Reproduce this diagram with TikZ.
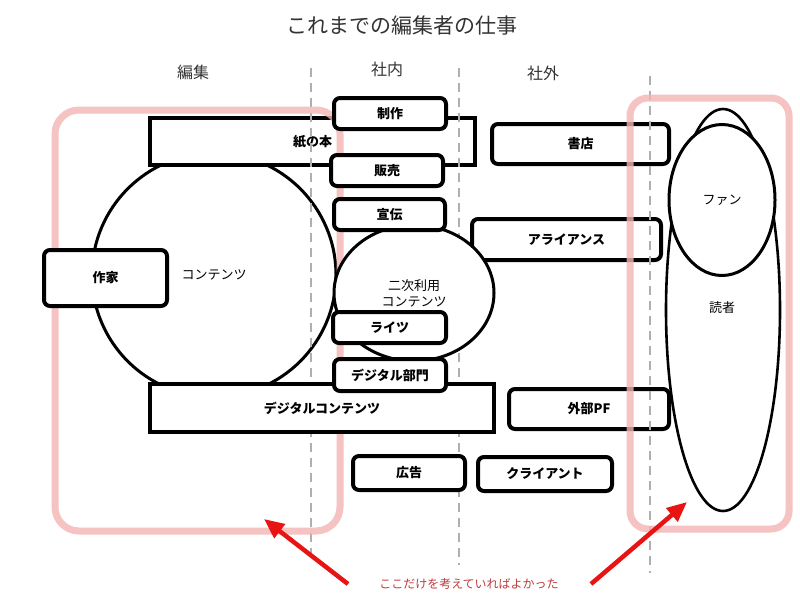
\documentclass[tikz,border=0pt]{standalone}
\usepackage{fontspec}
\setmainfont{Noto Sans CJK JP}
\usetikzlibrary{shapes.geometric,arrows.meta}
\definecolor{pinkline}{RGB}{244,180,180}
\definecolor{dashgray}{RGB}{175,175,175}
\definecolor{arrowred}{RGB}{232,20,20}
\definecolor{notered}{RGB}{190,60,60}
\tikzset{
  box/.style={draw, line width=4pt, rounded corners=6pt, fill=white, inner sep=0pt,
              font=\fontsize{13}{15}\selectfont\bfseries},
  sharpbox/.style={box, rounded corners=0pt},
  blob/.style={draw, line width=3pt, fill=white, inner sep=0pt,
               font=\fontsize{13}{16}\selectfont},
  divider/.style={dashgray, line width=2pt, dash pattern=on 9pt off 6pt},
  focus/.style={pinkline, line width=7pt, opacity=0.8},
  pointer/.style={arrowred, line width=4.5pt, -{Triangle[length=20pt,width=17pt]}},
  heading/.style={font=\fontsize{16}{18}\selectfont, text=black!80},
}
\begin{document}
\begin{tikzpicture}[x=1pt,y=-1pt]
\useasboundingbox (0,0) rectangle (800,600);
\fill[white] (0,0) rectangle (800,600);

% title and column headings
\node[font=\fontsize{21}{24}\selectfont, text=black!80] (title) at (402,26) {これまでの編集者の仕事};
\node[heading] (hEdit) at (193,72) {編集};
\node[heading] (hIn) at (387,69) {社内};
\node[heading] (hOut) at (543,73) {社外};

% bottom layer shapes
\node[blob, circle, minimum size=244pt] (cont) at (214,275) {コンテンツ};
\node[sharpbox, minimum width=325pt, minimum height=47pt] (paper) at (312.5,141.5) {紙の本};
\node[box, minimum width=177pt, minimum height=40pt] (shop) at (580.5,144) {書店};
\node[box, minimum width=189pt, minimum height=41pt] (alliance) at (566.5,239.5) {アライアンス};
\node[box, minimum width=160pt, minimum height=40pt] (extpf) at (589,409) {外部PF};
\node[blob, ellipse, line width=2.6pt, minimum width=114pt, minimum height=402pt] (reader) at (723,310) {};
\node[font=\fontsize{13}{16}\selectfont] (readerlbl) at (722,308) {読者};
\node[blob, ellipse, minimum width=106pt, minimum height=151pt] (fan) at (722,200) {ファン};

% dividers
\coordinate (d1t) at (311,68);  \coordinate (d1b) at (311,563);
\coordinate (d2t) at (459,68);  \coordinate (d2b) at (459,565);
\coordinate (d3t) at (650,76);  \coordinate (d3b) at (650,573);
\draw[divider] (d1t) -- (d1b);
\draw[divider] (d2t) -- (d2b);
\draw[divider] (d3t) -- (d3b);

% focus frames
\draw[focus, rounded corners=24pt] (55,110) rectangle (340,531);
\draw[focus, rounded corners=18pt] (630,98) rectangle (789,529);

% upper layer shapes
\node[blob, ellipse, align=center, minimum width=160pt, minimum height=136pt] (second) at (414,293) {二次利用\\コンテンツ};
\node[box, minimum width=112pt, minimum height=31pt] (make) at (390,113.5) {制作};
\node[box, minimum width=112pt, minimum height=31pt] (sell) at (387,170.5) {販売};
\node[box, minimum width=111pt, minimum height=31pt] (promo) at (389.5,214.5) {宣伝};
\node[box, minimum width=113pt, minimum height=31pt] (rights) at (389.5,327.5) {ライツ};
\node[sharpbox, minimum width=344pt, minimum height=48pt] (digc) at (322,408) {デジタルコンテンツ};
\node[box, minimum width=112pt, minimum height=32pt] (digdept) at (390,375) {デジタル部門};
\node[box, minimum width=112pt, minimum height=34pt] (ad) at (409,473) {広告};
\node[box, minimum width=134pt, minimum height=34pt] (client) at (545,474) {クライアント};
\node[box, minimum width=123pt, minimum height=56pt] (author) at (105.5,278) {作家};

% note and arrows
\node[font=\fontsize{12}{14}\selectfont, text=notered] (note) at (469,584) {ここだけを考えていればよかった};
\coordinate (a1s) at (348,584);
\coordinate (a1e) at (264,519);
\coordinate (a2s) at (591,584);
\coordinate (a2e) at (687,502);
\draw[pointer] (a1s) -- (a1e);
\draw[pointer] (a2s) -- (a2e);
\end{tikzpicture}
\end{document}
